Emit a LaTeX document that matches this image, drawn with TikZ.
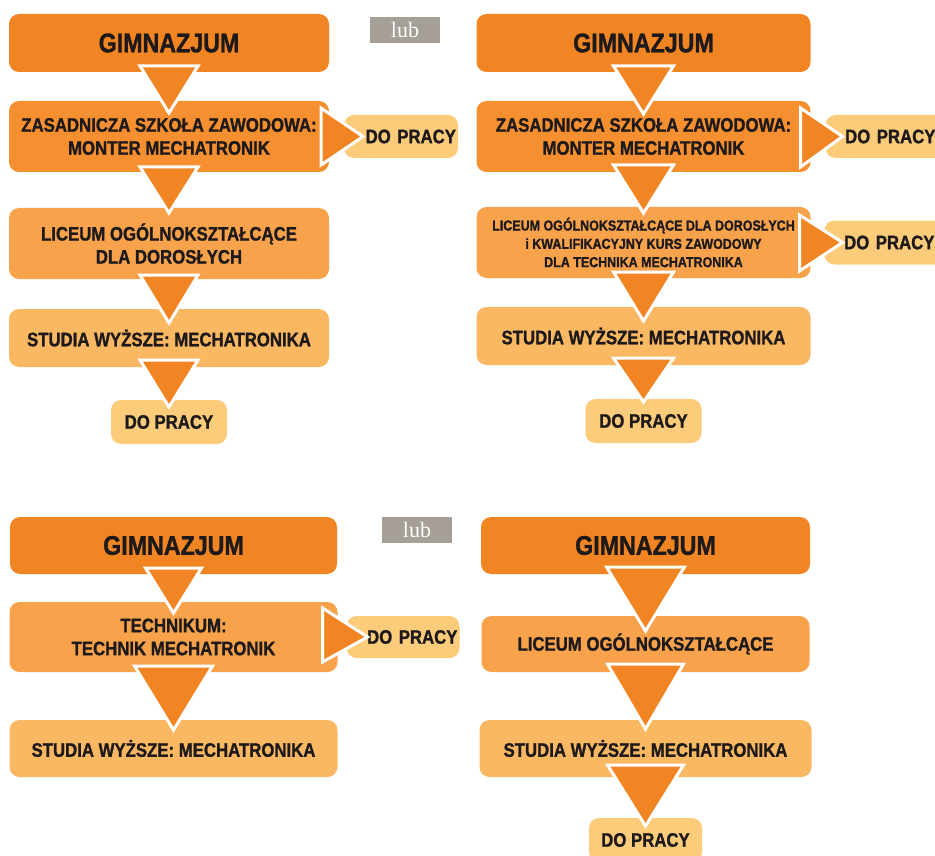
\documentclass[tikz,border=0pt]{standalone}
\usepackage{fontspec}
\setmainfont{Liberation Sans}[FakeStretch=0.86, BoldFeatures={FakeBold=1.2}]
\newfontfamily\lubfont{Liberation Serif}
\usetikzlibrary{positioning, calc}

\definecolor{gimorange}{HTML}{F28523}
\definecolor{zszorange}{HTML}{F58F2F}
\definecolor{loorange}{HTML}{F8A34C}
\definecolor{studorange}{HTML}{FBB862}
\definecolor{workyellow}{HTML}{FDCC7B}
\definecolor{lubgrey}{HTML}{A59F98}
\definecolor{inkdark}{HTML}{1E1A1B}

\tikzset{
  box/.style={rounded corners=10pt, inner sep=0pt, outer sep=0pt, align=center,
    text=inkdark, font=\bfseries\fontsize{19.5}{23}\selectfont},
  gimbox/.style={box, fill=gimorange, minimum height=58pt,
    font=\bfseries\fontsize{27}{30}\selectfont},
  zszbox/.style={box, fill=zszorange, minimum height=71pt},
  lobox/.style={box, fill=loorange, minimum height=71pt},
  studbox/.style={box, fill=studorange, minimum height=58pt},
  workbox/.style={box, fill=workyellow, minimum height=44pt},
  sidework/.style={workbox, align=right},
  lubbox/.style={fill=lubgrey, text=white, minimum width=70pt, minimum height=26pt,
    inner sep=0pt, font=\lubfont\fontsize{22}{24}\selectfont},
  flowtri/.style={fill=gimorange, draw=white, line width=3pt, line join=miter}
}

\begin{document}
\begin{tikzpicture}[x=1pt, y=1pt]
        \useasboundingbox (0,0) rectangle (935,-856);

        % Nodes, top left
        \node[gimbox, minimum width=320pt] (gim1) at (169,-43) {GIMNAZJUM};
        \node[zszbox, minimum width=320pt, below=29pt of gim1] (zsz1) {ZASADNICZA SZKOŁA ZAWODOWA:\\MONTER MECHATRONIK};
        \node[lobox, minimum width=320pt, below=36pt of zsz1] (lo1) {LICEUM OGÓLNOKSZTAŁCĄCE\\DLA DOROSŁYCH};
        \node[studbox, minimum width=320pt, below=30pt of lo1] (stud1) {STUDIA WYŻSZE: MECHATRONIKA};
        \node[workbox, minimum width=116pt, below=33pt of stud1] (pr1a) {DO PRACY};
        \node[sidework, text width=110pt, minimum width=114pt, minimum height=43pt, right=15pt of zsz1] (pr1b) {DO PRACY};

        % Nodes, top right
        \node[lubbox] (lub1) at (405,-30) {lub};
        \node[gimbox, minimum width=334pt] (gim2) at (643.5,-43) {GIMNAZJUM};
        \node[zszbox, minimum width=334pt, below=29pt of gim2] (zsz2) {ZASADNICZA SZKOŁA ZAWODOWA:\\MONTER MECHATRONIK};
        \node[lobox, minimum width=334pt, below=35pt of zsz2, font=\bfseries\fontsize{14.5}{18.3}\selectfont] (lo2) {LICEUM OGÓLNOKSZTAŁCĄCE DLA DOROSŁYCH\\i KWALIFIKACYJNY KURS ZAWODOWY\\DLA TECHNIKA MECHATRONIKA};
        \node[studbox, minimum width=334pt, below=29pt of lo2] (stud2) {STUDIA WYŻSZE: MECHATRONIKA};
        \node[workbox, minimum width=116pt, below=34pt of stud2] (pr2a) {DO PRACY};
        \node[sidework, text width=100pt, minimum width=120pt, minimum height=43pt, right=15pt of zsz2] (pr2b) {DO PRACY};
        \node[sidework, text width=100pt, minimum width=120pt, right=14pt of lo2] (pr2c) {DO PRACY};

        % Nodes, bottom left
        \node[gimbox, minimum width=327pt, minimum height=57pt] (gim3) at (173.5,-545.5) {GIMNAZJUM};
        \node[lobox, minimum width=328pt, minimum height=70pt, below=28pt of gim3] (tech3) {TECHNIKUM:\\TECHNIK MECHATRONIK};
        \node[studbox, minimum width=328pt, minimum height=57pt, below=48pt of tech3] (stud3) {STUDIA WYŻSZE: MECHATRONIKA};
        \node[sidework, text width=109pt, minimum width=113pt, minimum height=42pt, right=9pt of tech3] (pr3b) {DO PRACY};

        % Nodes, bottom right
        \node[lubbox] (lub2) at (417,-530) {lub};
        \node[gimbox, minimum width=329pt, minimum height=57pt] (gim4) at (645.5,-545.5) {GIMNAZJUM};
        \node[lobox, minimum width=328pt, minimum height=56pt, below=42pt of gim4] (lo4) {LICEUM OGÓLNOKSZTAŁCĄCE};
        \node[studbox, minimum width=332pt, minimum height=57pt, below=48pt of lo4] (stud4) {STUDIA WYŻSZE: MECHATRONIKA};
        \node[workbox, minimum width=113pt, below=41pt of stud4] (pr4a) {DO PRACY};

        % Arrows, top left
        \draw[flowtri] ($(gim1.south)+(-29,6)$) -- ($(gim1.south)+(29,6)$) -- ($(zsz1.north)+(0,-12)$) -- cycle;
        \draw[flowtri] ($(zsz1.south)+(-29,5)$) -- ($(zsz1.south)+(29,5)$) -- ($(lo1.north)+(0,-5)$) -- cycle;
        \draw[flowtri] ($(lo1.south)+(-29,4)$) -- ($(lo1.south)+(29,4)$) -- ($(stud1.north)+(0,-14)$) -- cycle;
        \draw[flowtri] ($(stud1.south)+(-29,7)$) -- ($(stud1.south)+(29,7)$) -- ($(pr1a.north)+(0,-7)$) -- cycle;
        \draw[flowtri] ($(zsz1.north east)+(-8,-7)$) -- ($(zsz1.south east)+(-8,7)$) -- ($(pr1b.west)+(19,0)$) -- cycle;

        % Arrows, top right
        \draw[flowtri] ($(gim2.south)+(-30,6)$) -- ($(gim2.south)+(30,6)$) -- ($(zsz2.north)+(0,-13)$) -- cycle;
        \draw[flowtri] ($(zsz2.south)+(-30,7)$) -- ($(zsz2.south)+(30,7)$) -- ($(lo2.north)+(0,-6)$) -- cycle;
        \draw[flowtri] ($(lo2.south)+(-30,6)$) -- ($(lo2.south)+(30,6)$) -- ($(stud2.north)+(0,-14)$) -- cycle;
        \draw[flowtri] ($(stud2.south)+(-30,7)$) -- ($(stud2.south)+(30,7)$) -- ($(pr2a.north)+(0,-3)$) -- cycle;
        \draw[flowtri] ($(zsz2.north east)+(-10,-7)$) -- ($(zsz2.south east)+(-10,5)$) -- ($(pr2b.west)+(17,0)$) -- cycle;
        \draw[flowtri] ($(lo2.north east)+(-11,-8)$) -- ($(lo2.south east)+(-11,7)$) -- ($(pr2c.west)+(18,0)$) -- cycle;

        % Arrows, bottom left
        \draw[flowtri] ($(gim3.south)+(-28,6)$) -- ($(gim3.south)+(28,6)$) -- ($(tech3.north)+(0,-11)$) -- cycle;
        \draw[flowtri] ($(tech3.south)+(-39,6)$) -- ($(tech3.south)+(39,6)$) -- ($(stud3.north)+(0,-10)$) -- cycle;
        \draw[flowtri] ($(tech3.north east)+(-15,-6)$) -- ($(tech3.south east)+(-15,10)$) -- ($(pr3b.west)+(21,0)$) -- cycle;

        % Arrows, bottom right
        \draw[flowtri] ($(gim4.south)+(-39,7)$) -- ($(gim4.south)+(39,7)$) -- ($(lo4.north)+(0,-15)$) -- cycle;
        \draw[flowtri] ($(lo4.south)+(-38,8)$) -- ($(lo4.south)+(38,8)$) -- ($(stud4.north)+(0,-9)$) -- cycle;
        \draw[flowtri] ($(stud4.south)+(-38,12)$) -- ($(stud4.south)+(38,12)$) -- ($(pr4a.north)+(0,-8)$) -- cycle;

\end{tikzpicture}
\end{document}
